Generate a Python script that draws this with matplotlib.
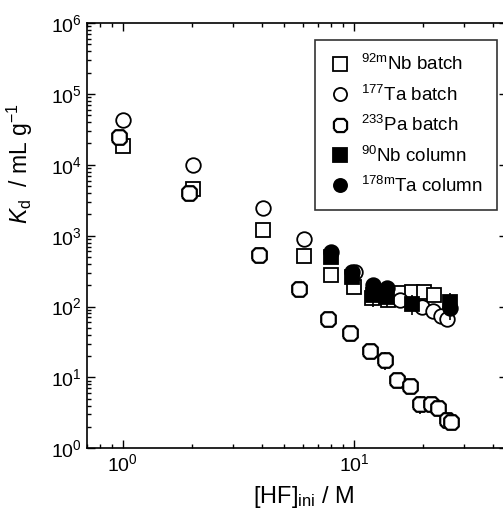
import numpy as np
import matplotlib.pyplot as plt

plt.rcParams['font.family'] = ['Liberation Sans', 'DejaVu Sans']
plt.rcParams['mathtext.fontset'] = 'custom'
plt.rcParams['mathtext.rm'] = 'Liberation Sans'
plt.rcParams['mathtext.it'] = 'Liberation Sans:italic'

# [HF]ini (M) and Kd (mL/g)
nb_batch_x = [1.0, 2.02, 4.03, 6.06, 7.96, 10.0, 12.0, 14.0, 15.7, 17.9, 20.2, 22.3]
nb_batch_y = [1.84e4, 4490, 1220, 514, 280, 190, 130, 125, 153, 160, 160, 145]

ta_batch_x = [1.0, 2.01, 4.03, 6.06, 10.1, 15.9, 19.8, 21.9, 23.9, 25.4]
ta_batch_y = [4.23e4, 1.01e4, 2445, 902, 309, 123, 99, 86, 74, 66]

pa_batch_x = [0.96, 1.94, 3.89, 5.79, 7.75, 9.64, 11.7, 13.6, 15.4, 17.5, 19.3, 21.6, 23.2, 25.3, 26.4]
pa_batch_y = [2.51e4, 3980, 542, 176, 67, 42.5, 23.4, 17.7, 9.2, 7.5, 4.2, 4.2, 3.7, 2.5, 2.33]
pa_batch_err = [0, 0, 0, 0, 0, 0, 3, 5, 1.5, 1.5, 1.2, 0.8, 0.6, 0.5, 0.4]

nb_col_x = [7.95, 9.8, 12.1, 13.9, 17.9, 26.1]
nb_col_y = [500, 263, 145, 137, 110, 116]
nb_col_err = [60, 40, 45, 40, 35, 40]

ta_col_x = [7.95, 9.8, 12.1, 13.9, 26.1]
ta_col_y = [587, 309, 200, 185, 95]
ta_col_err = [60, 40, 45, 40, 30]

xticks = [1, 10]
yticks = [1e0, 1e1, 1e2, 1e3, 1e4, 1e5, 1e6]

# chamfered square for the Pa marker
pa_marker = [(-1, -0.55), (-0.55, -1), (0.55, -1), (1, -0.55), (1, 0.55),
             (0.55, 1), (-0.55, 1), (-1, 0.55), (-1, -0.55)]

fig = plt.figure(figsize=(5.03, 5.14), dpi=100)
ax = fig.add_axes([0.173, 0.128, 0.835, 0.827])

ms = 10.5
mew = 1.3
ax.plot(nb_batch_x, nb_batch_y, 's', ms=ms, mfc='white', mec='black', mew=mew,
        label=r'$^{\mathrm{92m}}$Nb batch', zorder=3)
ax.plot(ta_batch_x, ta_batch_y, 'o', ms=ms, mfc='white', mec='black', mew=mew,
        label=r'$^{\mathrm{177}}$Ta batch', zorder=3)
ax.errorbar(pa_batch_x, pa_batch_y, yerr=pa_batch_err, fmt='none', ecolor='black',
            elinewidth=1.2, zorder=2)
ax.plot(pa_batch_x, pa_batch_y, ls='none', marker=pa_marker, ms=ms, mfc='white',
        mec='black', mew=mew + 0.3, label=r'$^{\mathrm{233}}$Pa batch', zorder=3)
ax.errorbar(nb_col_x, nb_col_y, yerr=nb_col_err, fmt='none', ecolor='black',
            elinewidth=1.2, zorder=4)
ax.plot(nb_col_x, nb_col_y, 's', ms=ms, mfc='black', mec='black', mew=mew,
        label=r'$^{\mathrm{90}}$Nb column', zorder=4)
ax.errorbar(ta_col_x, ta_col_y, yerr=ta_col_err, fmt='none', ecolor='black',
            elinewidth=1.2, zorder=4)
ax.plot(ta_col_x, ta_col_y, 'o', ms=ms, mfc='black', mec='black', mew=mew,
        label=r'$^{\mathrm{178m}}$Ta column', zorder=4)

ax.set_xscale('log')
ax.set_yscale('log')
ax.set_xlim(0.7, 46)
ax.set_ylim(1, 1e6)
ax.set_xticks(xticks)
ax.set_yticks(yticks)
ax.yaxis.set_minor_locator(plt.LogLocator(base=10, subs=np.arange(2, 10), numticks=20))
ax.xaxis.set_minor_formatter(plt.NullFormatter())
ax.yaxis.set_minor_formatter(plt.NullFormatter())

ax.tick_params(which='both', direction='in', top=True, right=True, labelsize=14,
               width=1.0)
ax.tick_params(which='major', length=6)
ax.tick_params(which='minor', length=3)
for s in ax.spines.values():
    s.set_linewidth(1.2)

ax.set_xlabel(r'[HF]$_{\mathrm{ini}}$ / M', fontsize=17)
ax.set_ylabel(r'$K_{\mathrm{d}}$  / mL g$^{-1}$', fontsize=16.5)
ax.xaxis.set_label_coords(0.517, -0.085)
ax.yaxis.set_label_coords(-0.125, 0.67)

leg = ax.legend(loc='upper right', bbox_to_anchor=(0.976, 0.96), fontsize=13.5,
                frameon=True, fancybox=False, edgecolor='black', borderpad=0.75,
                borderaxespad=0, labelspacing=0.55, handlelength=1.2,
                handletextpad=0.5, markerscale=0.9)
leg.get_frame().set_linewidth(1.2)

fig.savefig('out.png', dpi=100)
